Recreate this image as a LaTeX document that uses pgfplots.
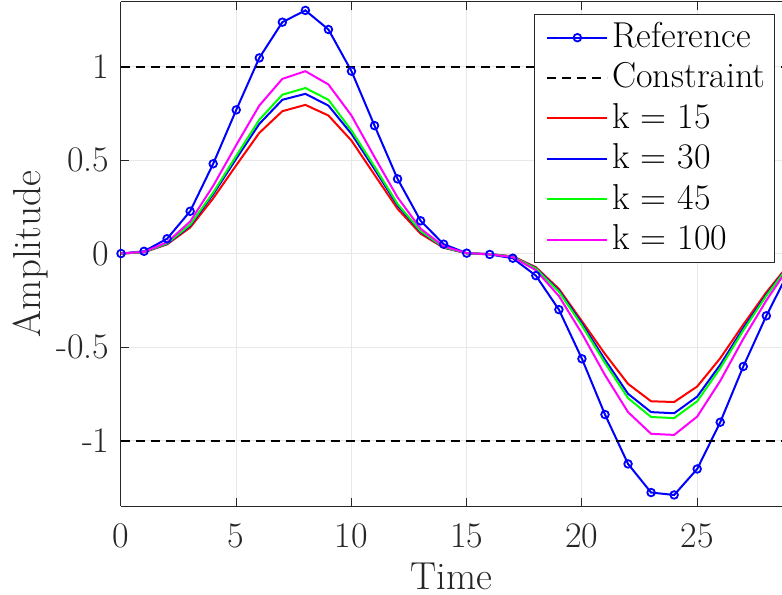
\documentclass[border=0pt]{standalone}
\usepackage{pgfplots}
\pgfplotsset{compat=1.18}
\definecolor{axgray}{rgb}{0.15,0.15,0.15}
\definecolor{mblue}{rgb}{0,0,1}
\definecolor{mred}{rgb}{1,0,0}
\definecolor{mgreen}{rgb}{0,1,0}
\definecolor{mmag}{rgb}{1,0,1}
\begin{document}
\begin{tikzpicture}
\begin{axis}[
  at={(0,0)}, anchor=south west,
  scale only axis, width=330.5bp, height=252bp,
  xmin=0, xmax=28.68, ymin=-1.35, ymax=1.345,
  axis y line*=left,
  axis line style={axgray, line width=0.5bp},
  tick style={axgray, line width=0.5bp},
  tick align=inside, major tick length=4bp,
  xtick={0,5,10,15,20,25}, xticklabels={0,5,10,15,20,25},
  ytick={-1,-0.5,0,0.5,1}, yticklabels={-1,-0.5,0,0.5,1},
  ticklabel style={font=\fontsize{18bp}{21bp}\selectfont, text=axgray},
  xticklabel style={anchor=north, inner sep=0pt, yshift=-8.5bp},
  yticklabel style={anchor=east, inner sep=0pt, xshift=-5.6bp},
  grid=major, grid style={gray!18, line width=0.5bp},
  xlabel={Time}, ylabel={Amplitude},
  label style={font=\fontsize{19.5bp}{23bp}\selectfont, text=axgray},
  xlabel style={at={(axis description cs:0.5,0)}, anchor=base, inner sep=0pt, yshift=-41.5bp},
  ylabel style={at={(axis description cs:0,0.5)}, rotate=0, anchor=base, inner sep=0pt, yshift=40bp},
  legend style={at={(rel axis cs:1,1)}, xshift=-3.5bp, yshift=-6bp, anchor=north east,
    font=\fontsize{18bp}{21bp}\selectfont, draw=axgray, line width=0.5bp,
    row sep=0pt, inner xsep=2.5bp, inner ysep=1.5bp, column sep=0pt,
    nodes={inner sep=2bp, text height=13bp, text depth=3.2bp},
    cells={anchor=west}},
  legend image code/.code={\path (0bp,0bp); \draw[mark repeat=2,mark phase=2,#1] plot coordinates {(3.5bp,0bp) (18.5bp,0bp) (33.5bp,0bp)};},
]
\addplot[mblue, line width=1bp, mark=o, mark size=1.9bp, mark options={solid, line width=0.9bp}] coordinates {
(0,0) (1,0.012) (2,0.079) (3,0.226) (4,0.48) (5,0.768) (6,1.046) (7,1.237) (8,1.30) (9,1.198)
(10,0.975) (11,0.684) (12,0.399) (13,0.175) (14,0.050) (15,0.002) (16,-0.005) (17,-0.025) (18,-0.118) (19,-0.30)
(20,-0.563) (21,-0.861) (22,-1.125) (23,-1.278) (24,-1.291) (25,-1.152) (26,-0.902) (27,-0.604) (28,-0.333) (29,-0.09)};
\addlegendentry{Reference}
\addplot[black, line width=1bp, dash pattern=on 4.5bp off 3bp] coordinates {(0,1) (28.68,1)};
\addlegendentry{Constraint}
\addplot[black, line width=1bp, dash pattern=on 4.5bp off 3bp, forget plot] coordinates {(0,-1) (28.68,-1)};
\addplot[mred, line width=1bp] coordinates {
(0,0) (1,0.007) (2,0.049) (3,0.139) (4,0.295) (5,0.472) (6,0.645) (7,0.761) (8,0.795) (9,0.738)
(10,0.604) (11,0.421) (12,0.239) (13,0.106) (14,0.031) (15,0.001) (16,-0.003) (17,-0.015) (18,-0.073) (19,-0.189)
(20,-0.362) (21,-0.537) (22,-0.697) (23,-0.790) (24,-0.794) (25,-0.711) (26,-0.560) (27,-0.380) (28,-0.207) (29,-0.055)};
\addlegendentry{k = 15}
\addplot[mblue, line width=1bp] coordinates {
(0,0) (1,0.008) (2,0.052) (3,0.149) (4,0.317) (5,0.507) (6,0.693) (7,0.822) (8,0.854) (9,0.791)
(10,0.640) (11,0.451) (12,0.257) (13,0.116) (14,0.033) (15,0.001) (16,-0.003) (17,-0.017) (18,-0.078) (19,-0.198)
(20,-0.375) (21,-0.568) (22,-0.750) (23,-0.848) (24,-0.854) (25,-0.765) (26,-0.595) (27,-0.399) (28,-0.220) (29,-0.059)};
\addlegendentry{k = 30}
\addplot[mgreen, line width=1bp] coordinates {
(0,0) (1,0.008) (2,0.054) (3,0.154) (4,0.326) (5,0.522) (6,0.715) (7,0.849) (8,0.885) (9,0.822)
(10,0.658) (11,0.465) (12,0.265) (13,0.120) (14,0.034) (15,0.001) (16,-0.003) (17,-0.017) (18,-0.080) (19,-0.204)
(20,-0.385) (21,-0.585) (22,-0.773) (23,-0.874) (24,-0.880) (25,-0.790) (26,-0.613) (27,-0.411) (28,-0.226) (29,-0.061)};
\addlegendentry{k = 45}
\addplot[mmag, line width=1bp] coordinates {
(0,0) (1,0.009) (2,0.060) (3,0.171) (4,0.362) (5,0.580) (6,0.791) (7,0.934) (8,0.975) (9,0.904)
(10,0.738) (11,0.516) (12,0.300) (13,0.133) (14,0.038) (15,0.002) (16,-0.004) (17,-0.019) (18,-0.089) (19,-0.227)
(20,-0.428) (21,-0.650) (22,-0.848) (23,-0.964) (24,-0.970) (25,-0.872) (26,-0.681) (27,-0.456) (28,-0.251) (29,-0.068)};
\addlegendentry{k = 100}
\end{axis}
\pgfresetboundingbox
\path (-60.5bp,-44.5bp) rectangle (330.5bp,253bp);
\end{tikzpicture}
\end{document}
